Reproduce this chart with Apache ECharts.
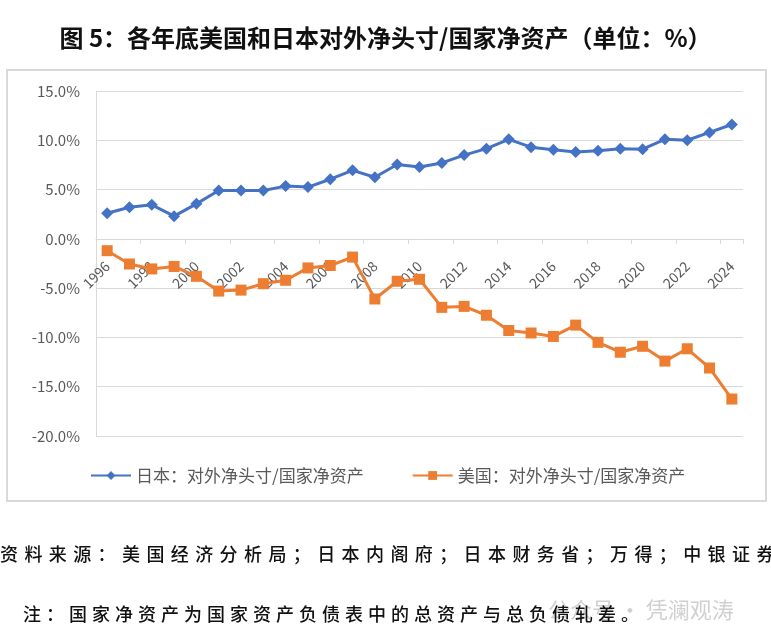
<!DOCTYPE html>
<html>
<head>
<meta charset="utf-8">
<script src="https://cdn.jsdelivr.net/npm/echarts@6/dist/echarts.min.js"></script>
<style>
  html, body { margin: 0; padding: 0; background: #fff; }
  #wrap { position: relative; width: 771px; height: 641px; overflow: hidden; }
  #chart { width: 771px; height: 641px; }
  .note {
    position: absolute;
    white-space: nowrap;
    font-family: "Noto Sans CJK SC", sans-serif;
    font-size: 18px;
    font-weight: 500;
    line-height: 24px;
    color: #111;
    letter-spacing: 6.4px;
  }
</style>
</head>
<body>
<div id="wrap">
  <div id="chart"></div>
  <div class="note" style="left:0px; top:541px;">资料来源：美国经济分析局；日本内阁府；日本财务省；万得；中银证券。</div>
  <div class="note" style="left:23px; top:601px; letter-spacing:5px;">注：国家净资产为国家资产负债表中的总资产与总负债轧差。</div>
</div>
<script>
// 年份 1996-2024
const years = [
  '1996', '1997', '1998', '1999', '2000', '2001', '2002', '2003', '2004', '2005',
  '2006', '2007', '2008', '2009', '2010', '2011', '2012', '2013', '2014', '2015',
  '2016', '2017', '2018', '2019', '2020', '2021', '2022', '2023', '2024'
];

// 日本：对外净头寸/国家净资产（%）
const japanData = [
  2.6, 3.2, 3.45, 2.3, 3.55, 4.9, 4.9, 4.9, 5.35, 5.25,
  6.05, 6.95, 6.25, 7.55, 7.3, 7.7, 8.5, 9.15, 10.1, 9.3,
  9.05, 8.8, 8.95, 9.15, 9.1, 10.1, 10.0, 10.8, 11.6
];

// 美国：对外净头寸/国家净资产（%）
const usData = [
  -1.2, -2.55, -3.05, -2.8, -3.8, -5.3, -5.2, -4.55, -4.2, -2.95,
  -2.7, -1.85, -6.1, -4.3, -4.1, -6.95, -6.85, -7.75, -9.3, -9.55,
  -9.9, -8.75, -10.5, -11.5, -10.9, -12.4, -11.15, -13.1, -16.25
];

const seriesNames = ['日本：对外净头寸/国家净资产', '美国：对外净头寸/国家净资产'];

const yMin = -20, yMax = 15;
const gridTop = 91, gridBottom = 205;
// 横轴放在 0 刻度处（Excel 默认在 0 处相交）
const plotHeight = 641 - gridTop - gridBottom;
const zeroOffset = -plotHeight * (0 - yMin) / (yMax - yMin);

const chart = echarts.init(document.getElementById('chart'));

const option = {
  backgroundColor: '#fff',
  animation: false,
  textStyle: { fontFamily: '"Noto Sans CJK SC", sans-serif' },
  title: {
    text: '图 5：各年底美国和日本对外净头寸/国家净资产（单位：%）',
    left: 'center',
    top: 21,
    textStyle: {
      fontSize: 24,
      fontWeight: 'bold',
      color: '#111',
      fontFamily: '"Noto Sans CJK SC", sans-serif'
    }
  },
  graphic: [
    {
      type: 'rect',
      shape: { x: 7, y: 70, width: 759, height: 431 },
      style: { fill: 'none', stroke: '#d9d9d9', lineWidth: 2 },
      silent: true
    },
    {
      type: 'text',
      left: 548,
      top: 599,
      style: {
        text: '公众号 · 凭澜观涛',
        fontSize: 22,
        fill: 'rgba(150,150,150,0.45)',
        fontFamily: '"Noto Sans CJK SC", sans-serif'
      },
      silent: true
    }
  ],
  legend: {
    data: seriesNames,
    top: 462,
    left: 85,
    itemWidth: 40,
    itemHeight: 11,
    itemGap: 48,
    textStyle: { fontSize: 17, color: '#595959' }
  },
  grid: {
    left: 96,
    right: 28,
    top: gridTop,
    bottom: gridBottom
  },
  xAxis: {
    type: 'category',
    data: years,
    boundaryGap: true,
    offset: zeroOffset,
    axisLine: { onZero: false, lineStyle: { color: '#d9d9d9', width: 1 } },
    axisTick: {
      show: true,
      interval: 1,
      length: 5,
      lineStyle: { color: '#d9d9d9' }
    },
    axisLabel: {
      interval: 1,
      rotate: 45,
      margin: 25,
      fontSize: 14,
      color: '#595959'
    }
  },
  yAxis: {
    type: 'value',
    min: yMin,
    max: yMax,
    interval: 5,
    axisLine: { show: true, lineStyle: { color: '#d9d9d9' } },
    axisTick: { show: false },
    splitLine: { lineStyle: { color: '#d9d9d9', width: 1 } },
    axisLabel: {
      margin: 16,
      fontSize: 15,
      color: '#595959',
      formatter: function (v) { return v.toFixed(1) + '%'; }
    }
  },
  series: [
    {
      name: seriesNames[0],
      type: 'line',
      data: japanData,
      symbol: 'diamond',
      symbolSize: 12,
      z: 5,
      lineStyle: { color: '#4472C4', width: 3 },
      itemStyle: { color: '#4472C4' }
    },
    {
      name: seriesNames[1],
      type: 'line',
      data: usData,
      symbol: 'rect',
      symbolSize: 11,
      z: 5,
      lineStyle: { color: '#ED7D31', width: 3 },
      itemStyle: { color: '#ED7D31' }
    }
  ]
};

chart.setOption(option);
</script>
</body>
</html>
